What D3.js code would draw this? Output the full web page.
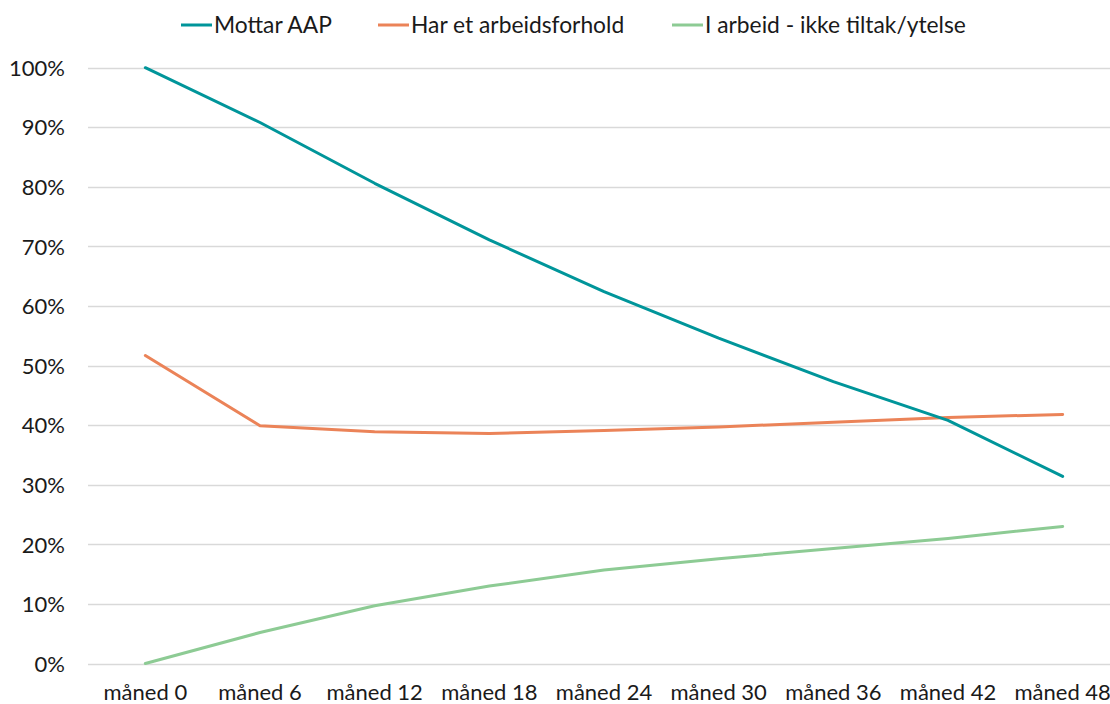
<!DOCTYPE html>
<html>
<head>
<meta charset="utf-8">
<script src="https://cdn.jsdelivr.net/npm/d3@7"></script>
<style>
  html, body { margin: 0; padding: 0; background: #fff; }
  svg { display: block; }
  text { font-family: Lato, "Open Sans", sans-serif; fill: #1a1a1a; }
</style>
</head>
<body>
<svg id="chart" width="1110" height="704"></svg>
<script>
const categories = ["måned 0","måned 6","måned 12","måned 18","måned 24","måned 30","måned 36","måned 42","måned 48"];
const seriesNames = ["Mottar AAP","Har et arbeidsforhold","I arbeid - ikke tiltak/ytelse"];
const mottarAAP = [100, 90.8, 80.6, 71.1, 62.4, 54.6, 47.3, 40.8, 31.4];
const harArbeidsforhold = [51.7, 39.9, 38.9, 38.6, 39.1, 39.7, 40.5, 41.3, 41.8];
const iArbeid = [0, 5.2, 9.7, 13.0, 15.7, 17.6, 19.3, 21.0, 23.0];
const yTicks = [0,10,20,30,40,50,60,70,80,90,100];
const colors = ["#00959A", "#EB8358", "#8DCB94"];

const svg = d3.select("#chart");
const plotLeft = 88, plotRight = 1120, plotTop = 67.7, plotBottom = 663.5;

const x = d3.scaleBand().domain(categories).range([plotLeft, plotRight]).paddingInner(0).paddingOuter(0);
const y = d3.scaleLinear().domain([0, 100]).range([plotBottom, plotTop]);
const cx = d => x(d) + x.bandwidth() / 2;

// gridlines
svg.append("g").selectAll("line").data(yTicks).join("line")
  .attr("x1", plotLeft).attr("x2", plotRight)
  .attr("y1", d => Math.round(y(d)) + 0.5).attr("y2", d => Math.round(y(d)) + 0.5)
  .attr("stroke", "#d9d9d9").attr("stroke-width", 1.3);

// y labels
const yAxis = d3.axisLeft(y).tickValues(yTicks).tickFormat(d => d + "%").tickSize(0).tickPadding(0);
const gy = svg.append("g").attr("transform", "translate(65,0)").call(yAxis);
gy.select(".domain").remove();
gy.selectAll("text").attr("font-size", 22).attr("font-family", "Lato, sans-serif").attr("fill", "#1a1a1a").attr("dy", "0.35em");

// x labels
const xAxis = d3.axisBottom(x).tickSize(0).tickPadding(0);
const gx = svg.append("g").attr("transform", "translate(0,692)").call(xAxis);
gx.select(".domain").remove();
gx.selectAll("text").attr("font-size", 22).attr("font-family", "Lato, sans-serif").attr("fill", "#1a1a1a").attr("dy", "0.35em");

// lines
const data = [mottarAAP, harArbeidsforhold, iArbeid];
const line = d3.line().x((d, i) => cx(categories[i])).y(d => y(d));
const order = [2, 1, 0];
order.forEach(k => {
  svg.append("path").datum(data[k])
    .attr("d", line)
    .attr("fill", "none")
    .attr("stroke", colors[k])
    .attr("stroke-width", 3)
    .attr("stroke-linejoin", "round")
    .attr("stroke-linecap", "round");
});

// legend
const legendX = [181, 378, 672];
const lg = svg.append("g");
seriesNames.forEach((name, i) => {
  const g = lg.append("g").attr("transform", `translate(${legendX[i]},25)`);
  g.append("line").attr("x1", 0).attr("x2", 31).attr("y1", 0).attr("y2", 0)
    .attr("stroke", colors[i]).attr("stroke-width", 3);
  g.append("text").attr("x", 33).attr("y", 0).attr("dy", "0.35em")
    .attr("font-size", 22.8).text(name);
});
</script>
</body>
</html>
